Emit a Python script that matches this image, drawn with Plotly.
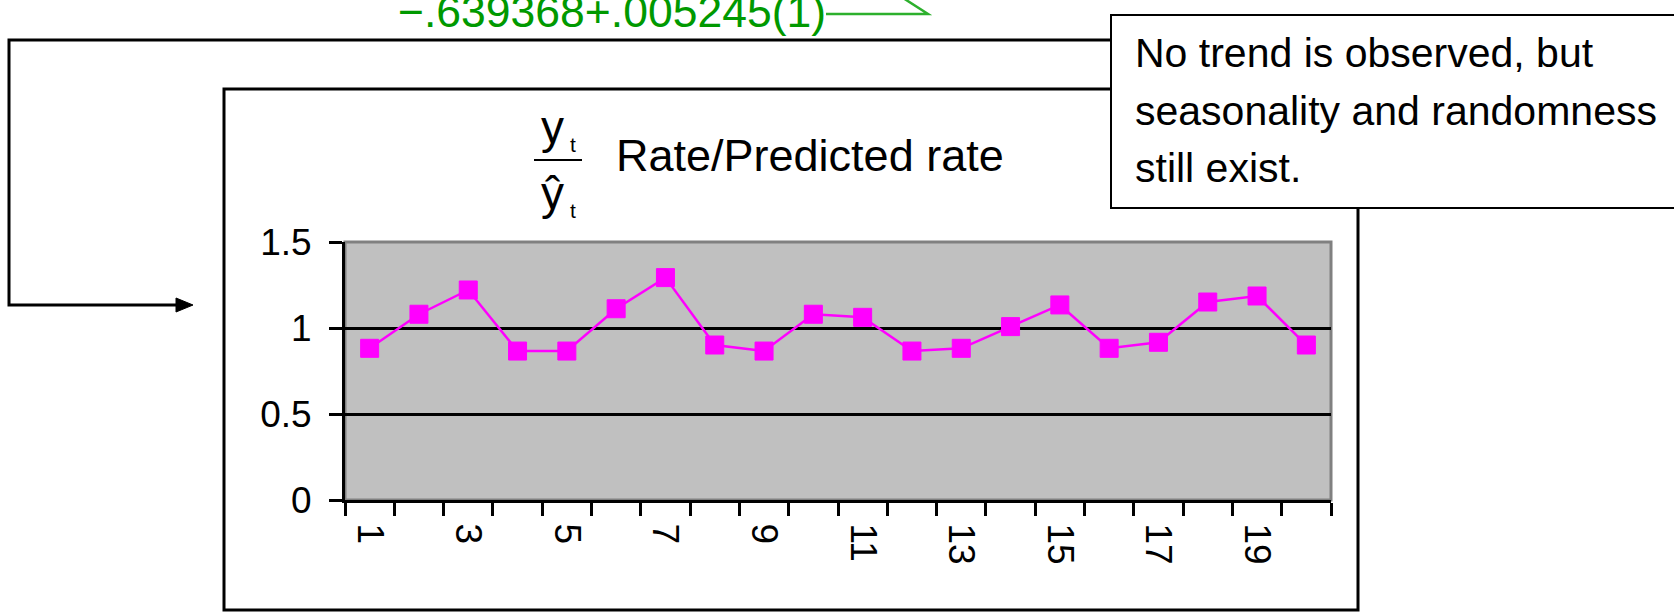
import plotly.graph_objects as go

# Ratio of actual rate to the rate predicted by the trend line, per period
periods = list(range(1, 21))
ratio = [0.882, 1.080, 1.221, 0.866, 0.866, 1.112, 1.293, 0.901, 0.866, 1.080,
         1.062, 0.866, 0.882, 1.008, 1.134, 0.882, 0.917, 1.151, 1.186, 0.901]

x_tick_vals = [1, 3, 5, 7, 9, 11, 13, 15, 17, 19]
x_tick_text = [str(v) for v in x_tick_vals]
y_tick_vals = [0, 0.5, 1, 1.5]
y_tick_text = ["0", "0.5", "1", "1.5"]

title_text = "Rate/Predicted rate"
trend_text = "\u2212.639368+.005245(1)"
note_lines = ["No trend is observed, but", "seasonality and randomness", "still exist."]

W, H = 1674, 612
# plot area in page pixels
PL, PR, PT, PB = 345, 1331, 242, 500


def px(x):
    return (x - PL) / (PR - PL)


def py(y):
    return (PB - y) / (PB - PT)


FONT = "Liberation Sans, Arial, sans-serif"

fig = go.Figure()
fig.add_trace(go.Scatter(
    x=periods, y=ratio, mode="lines+markers",
    line=dict(color="#FF00FF", width=2.5),
    marker=dict(symbol="square", size=18, color="#FF00FF",
                line=dict(color="#FF00FF", width=1)),
    showlegend=False, hoverinfo="skip",
))

shapes = []
# plot-area frame (top/right edges show grey)
shapes.append(dict(type="rect", xref="x domain", yref="y domain", x0=0, x1=1, y0=0, y1=1,
                   line=dict(color="#808080", width=3), fillcolor="rgba(0,0,0,0)", layer="below"))
# chart border
shapes.append(dict(type="rect", xref="paper", yref="paper",
                   x0=px(224), x1=px(1358), y0=py(89), y1=py(610),
                   line=dict(color="black", width=3), fillcolor="rgba(0,0,0,0)", layer="above"))
# connector from the note to the chart
shapes.append(dict(type="path", xref="paper", yref="paper",
                   path=(f"M {px(1112)} {py(40)} L {px(9)} {py(40)} "
                         f"L {px(9)} {py(305)} L {px(180)} {py(305)}"),
                   line=dict(color="black", width=3), layer="above"))
shapes.append(dict(type="path", xref="paper", yref="paper",
                   path=(f"M {px(176)} {py(298)} L {px(193)} {py(305)} "
                         f"L {px(176)} {py(312)} Z"),
                   line=dict(color="black", width=1), fillcolor="black", layer="above"))
# note box
shapes.append(dict(type="rect", xref="paper", yref="paper",
                   x0=px(1111), x1=px(1700), y0=py(15), y1=py(208),
                   line=dict(color="black", width=2), fillcolor="white", layer="above"))
# fraction bar
shapes.append(dict(type="line", xref="paper", yref="paper",
                   x0=px(534), x1=px(582), y0=py(160), y1=py(160),
                   line=dict(color="black", width=2), layer="above"))
# green harpoon after the trend expression
shapes.append(dict(type="path", xref="paper", yref="paper",
                   path=(f"M {px(826)} {py(14)} L {px(928)} {py(14)} "
                         f"L {px(900)} {py(-4)}"),
                   line=dict(color="#2DB02D", width=2.5), layer="above"))


def text_at(x, y, text, size, color="black", xanchor="center", **kw):
    return dict(xref="paper", yref="paper", x=px(x), y=py(y), text=text, showarrow=False,
                xanchor=xanchor, yanchor="middle",
                font=dict(family=FONT, size=size, color=color), **kw)


annotations = [
    # y_t over y-hat_t
    text_at(552, 127, "y", 46),
    text_at(573, 144, "t", 21),
    text_at(552, 193, "\u0177", 46),
    text_at(573, 210, "t", 21),
    text_at(614, 155, title_text, 45, xanchor="left"),
    text_at(396, 11, trend_text, 44.5, color="#009900", xanchor="left"),
]
# note text, one line at a time
for line_text, centre_y in zip(note_lines, [53, 111, 168]):
    annotations.append(text_at(1133, centre_y, line_text, 41, xanchor="left"))

fig.update_layout(
    width=W, height=H,
    margin=dict(l=PL, r=W - PR, t=PT, b=H - PB, pad=0),
    paper_bgcolor="white", plot_bgcolor="#C0C0C0",
    shapes=shapes, annotations=annotations,
    xaxis=dict(
        range=[0.5, 20.5], tickmode="array", tickvals=x_tick_vals, ticktext=x_tick_text,
        tickangle=90, ticks="outside", ticklen=13, tickwidth=3, tickcolor="rgba(0,0,0,0)",
        showgrid=False, zeroline=False, showline=True, linecolor="black", linewidth=3,
        tickfont=dict(family=FONT, size=37, color="black"),
        minor=dict(tick0=0.5, dtick=1, ticks="outside", ticklen=13, tickwidth=3,
                   tickcolor="black", showgrid=False),
        fixedrange=True,
    ),
    yaxis=dict(
        range=[0, 1.5], tickmode="array", tickvals=y_tick_vals, ticktext=y_tick_text,
        ticks="outside", ticklen=13, tickwidth=3, tickcolor="black",
        showgrid=False, zeroline=False, showline=True, linecolor="black", linewidth=3,
        tickfont=dict(family=FONT, size=37, color="black"), ticklabelstandoff=10,
        minor=dict(tickmode="array", tickvals=[0.5, 1], ticks="", showgrid=True,
                   gridcolor="black", gridwidth=3),
        fixedrange=True,
    ),
)

fig.write_html("out.html")
